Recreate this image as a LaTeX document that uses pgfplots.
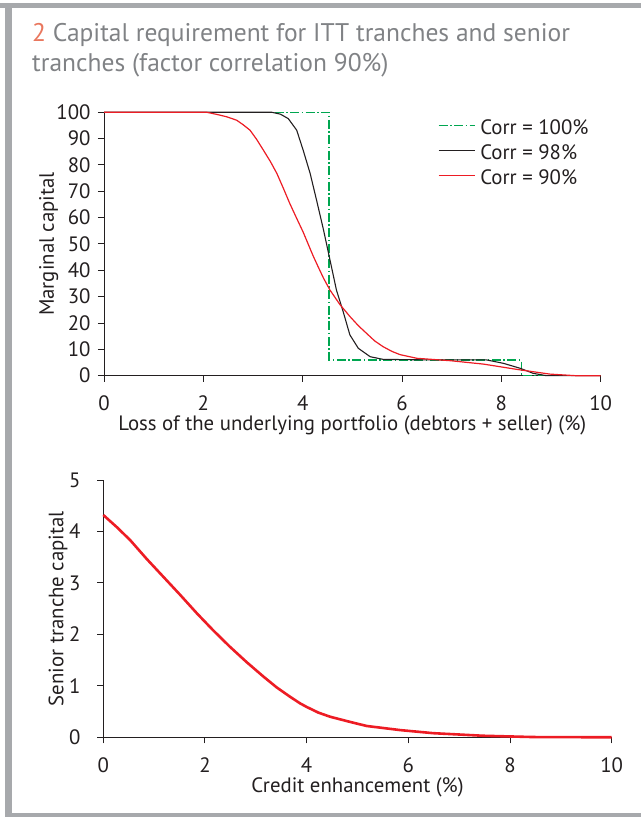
\documentclass[border=0pt]{standalone}
\usepackage{fontspec}
\setmainfont{PT Sans}
\usepackage{pgfplots}
\pgfplotsset{compat=1.18}
\definecolor{framegrey}{HTML}{A7A9AC}
\definecolor{titlegrey}{HTML}{808285}
\definecolor{titleorange}{HTML}{E9775E}
\definecolor{axcol}{HTML}{231F20}
\definecolor{cgreen}{HTML}{00A650}
\definecolor{cred}{HTML}{ED1C24}
\newcommand{\lbl}{\fontsize{20.8}{24}\selectfont}
\newcommand{\ttl}{\fontsize{25.5}{30}\selectfont}
\pgfplotsset{
  common/.style={
    scale only axis,
    anchor=south west,
    axis lines=left,
    axis line style={-, line width=1pt, color=axcol},
    xmin=0, xmax=10,
    tick align=outside,
    major tick length=6pt,
    tick style={line width=1pt, color=axcol},
    minor tick num=0,
    clip=false,
    /pgf/number format/assume math mode=true,
    tick label style={font=\lbl, text=axcol},
    label style={font=\lbl, text=axcol},
    xtick={0,2,...,10},
  }
}
\begin{document}
\begin{tikzpicture}
\useasboundingbox (0pt,0pt) rectangle (641pt,817pt);
\fill[framegrey] (0pt,809pt) rectangle (641pt,814pt);
\fill[framegrey] (5pt,0pt) rectangle (11.5pt,814pt);
\fill[framegrey] (5pt,0pt) rectangle (641pt,4pt);
\node[anchor=base west, inner sep=0pt, font=\ttl, text=titlegrey] at (32pt,775pt) {\textcolor{titleorange}{2} Capital requirement for ITT tranches and senior};
\node[anchor=base west, inner sep=0pt, font=\ttl, text=titlegrey] at (32pt,745.3pt) {tranches (factor correlation 90\%)};

\begin{axis}[common,
  at={(104pt,441.3pt)}, width=496.7pt, height=263.4pt,
  ymin=0, ymax=100, ytick={0,10,...,100},
  x tick label style={anchor=base, inner sep=0pt, yshift=-29.3pt},
  y tick label style={anchor=east, inner sep=0pt, xshift=-7.3pt},
  xlabel={Loss of the underlying portfolio (debtors + seller) (\%)},
  xlabel style={at={(axis description cs:0.5,0)}, anchor=base, inner sep=0pt, yshift=-55pt},
  ylabel={Marginal capital},
  ylabel style={at={(axis description cs:-0.1007,0.5)}, anchor=base, inner sep=0pt},
  legend style={draw=none, fill=none, at={(rel axis cs:0.672,0.9757)}, anchor=north west,
    font=\lbl, text=axcol, row sep=0pt, column sep=5pt, inner sep=0pt,
    nodes={inner sep=0pt, text height=15.5pt, text depth=9.5pt}},
  legend cell align=left,
  legend image code/.code={\draw[#1] (0pt,6pt) -- (36pt,6pt);},
]
\addplot[cgreen, line width=1.3pt, dash pattern=on 9pt off 2.5pt on 1.5pt off 2.5pt] coordinates {
(0,100) (4.53,100) (4.53,6) (8.4,6) (8.4,0) (10,0)
};
\addlegendentry{Corr = 100\%}
\addplot[axcol, line width=1.1pt] coordinates {
(0,100) (3.38,100) (3.55,99.3) (3.71,97.6) (3.88,93.2) (4.01,85.6) (4.15,76.8)
(4.28,66.6) (4.42,55.3) (4.55,43.9) (4.68,32.5) (4.82,24) (4.95,15.5) (5.12,10.4)
(5.36,7.2) (5.62,6.2) (6.5,6) (7.7,6) (8.04,4.7) (8.38,2.8) (8.64,0.9) (8.91,0) (10,0)
};
\addlegendentry{Corr = 98\%}
\addplot[cred, line width=1.2pt] coordinates {
(0,100) (2.07,100) (2.27,99.2) (2.47,98.3) (2.67,97) (2.8,95.3) (2.94,93.2)
(3.07,89.8) (3.21,85.6) (3.35,81.3) (3.48,76.8) (3.61,71.2) (3.74,65.4) (3.88,59.7)
(4.01,54.5) (4.11,50) (4.21,45.5) (4.32,41) (4.42,37) (4.55,32.5) (4.75,27)
(4.95,22.5) (5.12,19) (5.29,16) (5.45,13.2) (5.62,11) (5.8,9.2) (5.96,8)
(6.3,6.6) (6.97,5.7) (7.64,4.4) (8.31,2.4) (8.98,0.6) (9.5,0) (10,0)
};
\addlegendentry{Corr = 90\%}
\end{axis}

\begin{axis}[common,
  at={(103.3pt,79.7pt)}, width=508.4pt, height=257.3pt,
  ymin=0, ymax=5, ytick={0,1,...,5},
  x tick label style={anchor=base, inner sep=0pt, yshift=-29.3pt},
  y tick label style={anchor=east, inner sep=0pt, xshift=-16.6pt},
  xlabel={Credit enhancement (\%)},
  xlabel style={at={(axis description cs:0.5,0)}, anchor=base, inner sep=0pt, yshift=-55.5pt},
  ylabel={Senior tranche capital},
  ylabel style={at={(axis description cs:-0.0787,0.5)}, anchor=base, inner sep=0pt},
]
\addplot[cred, line width=2.6pt] coordinates {
(0,4.32) (0.27,4.08) (0.53,3.83) (0.85,3.47) (1.18,3.12) (1.51,2.77) (1.84,2.41)
(2.16,2.08) (2.49,1.76) (2.82,1.46) (3.15,1.18) (3.41,0.97) (3.67,0.79) (3.87,0.66)
(4.0,0.59) (4.23,0.48) (4.46,0.40) (4.85,0.30) (5.18,0.22) (5.84,0.14) (6.49,0.08)
(7.47,0.03) (8.45,0.005) (10,0)
};
\end{axis}
\end{tikzpicture}
\end{document}
